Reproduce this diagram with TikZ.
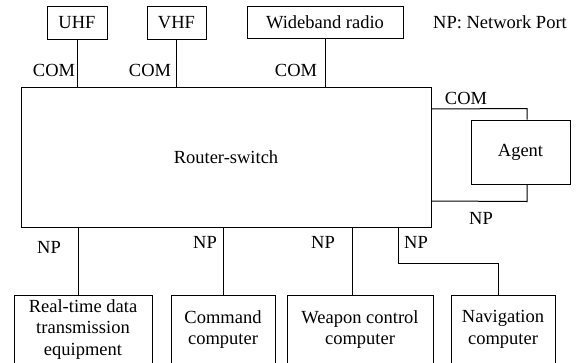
\documentclass[tikz,border=0pt]{standalone}
\usepackage{fontspec}
\setmainfont{Liberation Serif}
\begin{document}
\begin{tikzpicture}[x=1pt,y=-1pt,
  box/.style={draw,line width=1pt,inner sep=0pt,align=center,font=\fontsize{18.5}{21.5}\selectfont},
  lbl/.style={inner sep=0pt,font=\fontsize{18.5}{21.5}\selectfont},
  wire/.style={line width=1pt}]
\useasboundingbox (0,0) rectangle (578,362);
% top boxes
\node[box,minimum width=60,minimum height=33] (uhf) at (77,22.5) {UHF};
\node[box,minimum width=59,minimum height=33] (vhf) at (176.5,22.5) {VHF};
\node[box,minimum width=156,minimum height=32] (wb) at (325,22) {Wideband radio};
\node[lbl] (legend) at (500,22) {NP: Network Port};
% router and agent
\node[box,minimum width=410,minimum height=140] (router) at (226,157) {Router-switch};
\node[box,minimum width=99,minimum height=64] (agent) at (520.5,152) {Agent};
% bottom boxes
\node[box,minimum width=138,minimum height=69] (rt) at (83,329.5) {Real-time data\\transmission\\equipment};
\node[box,minimum width=104,minimum height=69] (cmd) at (223,329.5) {Command\\computer};
\node[box,minimum width=146,minimum height=69] (wpn) at (360,329.5) {Weapon control\\computer};
\node[box,minimum width=104,minimum height=69] (nav) at (503,329.5) {Navigation\\computer};
% top connectors
\draw[wire] (uhf.south) -- (uhf.south |- router.north);
\draw[wire] (vhf.south) -- (vhf.south |- router.north);
\draw[wire] (wb.south) -- (wb.south |- router.north);
\node[lbl] (c1) at (54,70) {COM};
\node[lbl] (c2) at (150,70) {COM};
\node[lbl] (c3) at (296,70) {COM};
% agent connectors
\coordinate (acom) at ([xshift=6.5pt]agent.north);
\coordinate (anp) at ([xshift=6.5pt]agent.south);
\draw[wire] (acom) -- ++(0,-11) -- (router.east |- 0,109);
\draw[wire] (anp) -- ++(0,17) -- (router.east |- 0,201);
\node[lbl] (c4) at (466,98) {COM};
\node[lbl] (n5) at (481,218) {NP};
% bottom connectors
\draw[wire] ([xshift=-5pt]rt.north) -- ([xshift=-5pt]rt.north |- router.south);
\draw[wire] (cmd.north) -- (cmd.north |- router.south);
\draw[wire] ([xshift=-8pt]wpn.north) -- ([xshift=-8pt]wpn.north |- router.south);
\coordinate (navtop) at ([xshift=-5pt]nav.north);
\draw[wire] (router.south -| 398,0) -- (398,263) -- (navtop |- 0,263) -- (navtop);
\node[lbl] (n1) at (49,247) {NP};
\node[lbl] (n2) at (205,242) {NP};
\node[lbl] (n3) at (323,242) {NP};
\node[lbl] (n4) at (416,242) {NP};
\end{tikzpicture}
\end{document}
